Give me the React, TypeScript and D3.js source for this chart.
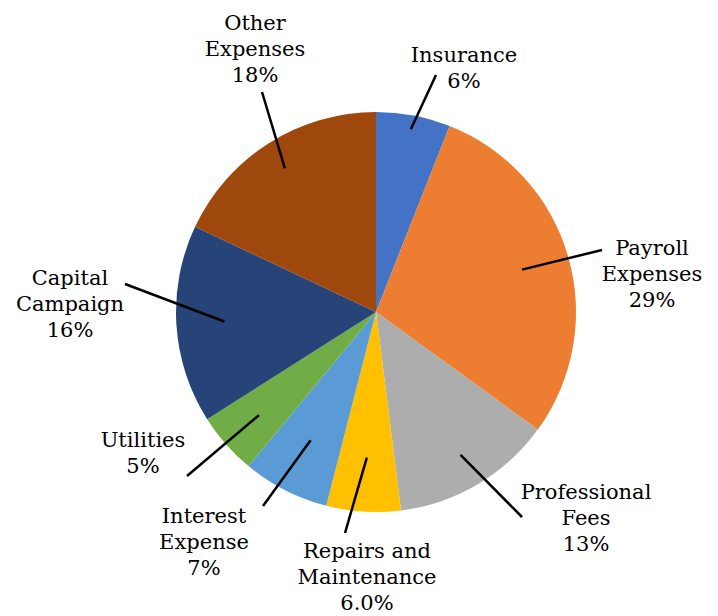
import React from "react";
import * as d3 from "d3";

const categories = [
  "Insurance",
  "Payroll Expenses",
  "Professional Fees",
  "Repairs and Maintenance",
  "Interest Expense",
  "Utilities",
  "Capital Campaign",
  "Other Expenses",
];
const values = [6, 29, 13, 6, 7, 5, 16, 18];
const valueLabels = ["6%", "29%", "13%", "6.0%", "7%", "5%", "16%", "18%"];
const labelLines = [
  ["Insurance"],
  ["Payroll", "Expenses"],
  ["Professional", "Fees"],
  ["Repairs and", "Maintenance"],
  ["Interest", "Expense"],
  ["Utilities"],
  ["Capital", "Campaign"],
  ["Other", "Expenses"],
];
const colors = ["#4472C4", "#ED7D31", "#ADADAD", "#FFC000", "#5B9BD5", "#70AD47", "#264478", "#9E480E"];

// label layout: text center x, first baseline y, leader outer end, leader inner radius fraction
const labelLayout = [
  { x: 464, y: 62, lx: 436, ly: 75, f: 0.93 },
  { x: 652, y: 255, lx: 602, ly: 250, f: 0.76 },
  { x: 586, y: 499, lx: 522, ly: 517, f: 0.83 },
  { x: 367, y: 558, lx: 345, ly: 533, f: 0.73 },
  { x: 204, y: 523, lx: 263, ly: 506, f: 0.72 },
  { x: 143, y: 447, lx: 187, ly: 476, f: 0.78 },
  { x: 70, y: 285, lx: 125, ly: 284, f: 0.76 },
  { x: 255, y: 30, lx: 262, ly: 92, f: 0.85 },
];

const W = 718;
const H = 616;
const cx = 376;
const cy = 312;
const R = 200;

export default function App() {
  const pie = d3.pie<number>().sort(null).value((d) => d)(values);
  const arc = d3.arc<d3.PieArcDatum<number>>().innerRadius(0).outerRadius(R);
  const lineH = 26;
  return (
    <div style={{ marginLeft: -8, marginTop: -8 }}>
      <svg width={W} height={H} style={{ display: "block", background: "#fff" }}>
        {pie.map((p, i) => (
          <path key={i} d={arc(p) || ""} fill={colors[i]} transform={`translate(${cx},${cy})`} />
        ))}
        {pie.map((p, i) => {
          const L = labelLayout[i];
          const mid = (p.startAngle + p.endAngle) / 2;
          const r = R * L.f;
          return (
            <line
              key={"l" + i}
              x1={L.lx}
              y1={L.ly}
              x2={cx + r * Math.sin(mid)}
              y2={cy - r * Math.cos(mid)}
              stroke="#000"
              strokeWidth={2.5}
            />
          );
        })}
        {categories.map((c, i) => {
          const L = labelLayout[i];
          const lines = [...labelLines[i], valueLabels[i]];
          return lines.map((t, k) => (
            <text
              key={c + k}
              x={L.x}
              y={L.y + k * lineH}
              textAnchor="middle"
              style={{ fontFamily: `"DejaVu Serif"`, fontSize: 21 }}
            >
              {t}
            </text>
          ));
        })}
      </svg>
    </div>
  );
}
